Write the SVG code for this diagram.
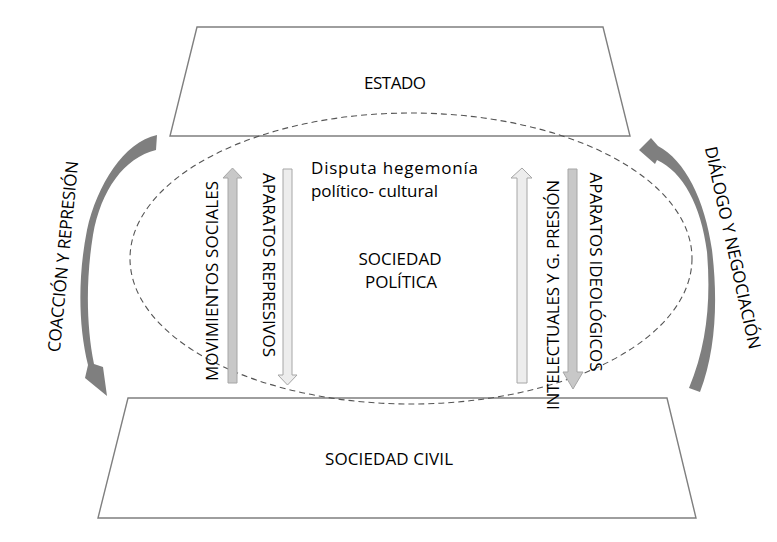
<svg xmlns="http://www.w3.org/2000/svg" width="777" height="542" viewBox="0 0 777 542">
<style>
.box{fill:#fff;stroke:#7f7f7f;stroke-width:1.4}
.ell{fill:none;stroke:#555;stroke-width:1.1;stroke-dasharray:6 4}
.curv{fill:#7f7f7f;stroke:none}
.blk-d{fill:#c8c8c8;stroke:#a6a6a6;stroke-width:1}
.blk-l{fill:#ededed;stroke:#a6a6a6;stroke-width:1}
text{font-family:"Open Sans","Noto Sans","Liberation Sans",sans-serif;fill:#000;font-size:17px}
.c{text-anchor:middle}
</style>
<rect width="777" height="542" fill="#fff"/>
<g id="estado">
<polygon class="box" points="197,27 603,27 630,136 170,136"/>
<text class="c" x="395" y="89" textLength="62">ESTADO</text>
</g>
<g id="sociedad-civil">
<polygon class="box" points="128,398 667,398 696,518 98,518"/>
<text class="c" x="389" y="465" textLength="128">SOCIEDAD CIVIL</text>
</g>
<g id="sociedad-politica">
<ellipse class="ell" cx="411" cy="258.5" rx="281" ry="145.5"/>
<text class="c" x="400" y="265" textLength="83">SOCIEDAD</text>
<text class="c" x="401" y="288" textLength="72">POLÍTICA</text>
</g>
<g id="disputa">
<text x="311" y="174" textLength="167">Disputa hegemonía</text>
<text x="311" y="197" textLength="127">político- cultural</text>
</g>
<g id="connectors">
<path id="coaccion-arrow" class="curv" d="M157,135 C124,142 97,185 87,230 C78,275 78,325 88,365 L85,378 L107,396 L103,367 L94,364 C86,325 86,278 93,235 C101,190 124,158 156,150 Z"/>
<path id="dialogo-arrow" class="curv" d="M658,146 C685,160 705,200 712,250 C718,300 716,350 700,392 L689,388 C707,345 711,300 707,252 C701,205 683,172 657,160 L655,164 L639,150 L651,138 Z"/>
<polygon id="movimientos-arrow" class="blk-d" points="228,383 237,383 237,178 242,178 232.5,168 223,178 228,178"/>
<polygon id="represivos-arrow" class="blk-l" points="283,169 292,169 292,375 297,375 287.5,385 278,375 283,375"/>
<polygon id="intelectuales-arrow" class="blk-l" points="517,383 527,383 527,178 532,178 522,168 511,178 517,178"/>
<polygon id="ideologicos-arrow" class="blk-d" points="568,169 577,169 577,372 583,372 573,389 563,372 568,372"/>
</g>
<g id="label-coaccion"><text class="c" transform="translate(69,257) rotate(-84.5)" textLength="192">COACCIÓN Y REPRESIÓN</text></g>
<g id="label-dialogo"><text class="c" transform="translate(727,249) rotate(77.6)" textLength="207">DIÁLOGO Y NEGOCIACIÓN</text></g>
<g id="label-movimientos"><text class="c" transform="translate(218,281) rotate(-90)" textLength="200">MOVIMIENTOS SOCIALES</text></g>
<g id="label-represivos"><text class="c" transform="translate(263,265) rotate(90)" textLength="184">APARATOS REPRESIVOS</text></g>
<g id="label-intelectuales"><text class="c" transform="translate(559,295) rotate(-90)" textLength="230">INTELECTUALES Y G. PRESIÓN</text></g>
<g id="label-ideologicos"><text class="c" transform="translate(590,272) rotate(90)" textLength="199">APARATOS IDEOLÓGICOS</text></g>
</svg>
